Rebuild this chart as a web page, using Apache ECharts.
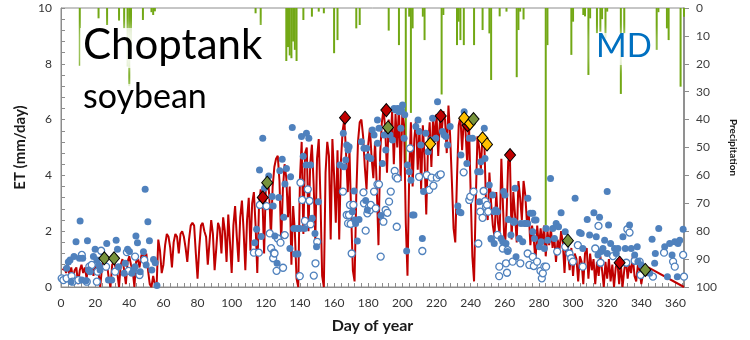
<!DOCTYPE html>
<html>
<head>
<meta charset="utf-8">
<script src="https://cdn.jsdelivr.net/npm/echarts@6/dist/echarts.min.js"></script>
<style>
  html, body { margin: 0; padding: 0; background: #fff; }
  #chart { width: 750px; height: 340px; }
</style>
</head>
<body>
<div id="chart"></div>
<script>
// Modelled daily ET (mm/day), days 1..344; the series then runs straight to day 365.
var modelET = [
  0.6,0.7,0.5,0.8,0.4,0.7,0.3,0.6,0.7,0.1,
  0.6,0.8,0.5,0.7,0.3,0.8,0.6,0.9,0.4,0.7,
  0.8,0.5,0.0,0.7,0.9,0.6,0.8,0.3,0.0,0.8,
  0.9,0.7,0.5,0.0,0.8,1.0,0.6,0.1,0.9,1.1,
  0.8,0.6,0.0,0.9,1.0,0.7,1.1,1.3,0.9,1.2,
  0.6,0.1,0.0,0.4,0.1,0.0,1.7,1.3,0.5,0.8,
  1.5,1.9,1.8,1.4,0.7,1.6,1.9,1.8,1.2,1.9,
  2.0,1.8,1.4,0.9,1.7,2.2,2.3,2.2,1.2,0.3,
  1.4,2.2,2.3,2.0,1.8,0.8,1.6,2.4,1.9,0.6,
  1.4,2.3,2.1,1.2,2.5,2.0,0.9,2.6,1.6,0.5,
  2.2,2.9,1.8,0.9,2.5,3.1,2.0,0.6,2.4,3.2,
  1.3,3.0,3.4,2.2,0.5,2.9,3.5,3.2,1.2,3.6,
  4.0,3.3,1.8,3.6,4.3,4.6,4.7,3.8,1.6,3.5,
  4.4,3.9,2.5,3.6,0.8,2.9,2.0,0.3,0.0,3.9,
  5.2,1.9,4.8,5.0,2.0,4.4,5.1,3.7,1.7,4.6,
  5.3,3.2,0.4,0.0,4.1,5.2,4.7,1.7,5.3,4.0,
  2.3,4.9,1.7,4.5,5.6,6.0,4.8,3.4,4.9,2.6,
  0.6,0.2,3.3,5.2,5.9,6.0,5.4,4.3,3.5,5.1,
  5.7,4.6,3.9,5.2,3.6,1.5,4.8,5.9,6.4,5.6,
  4.1,6.0,5.2,6.3,4.4,6.2,5.0,6.5,3.8,6.3,
  5.8,2.3,0.4,4.0,5.9,3.6,5.3,6.0,4.2,5.7,
  3.5,5.8,4.6,2.6,5.0,5.9,4.3,6.1,5.2,6.2,
  4.7,6.0,5.5,6.3,6.0,4.8,6.5,5.4,3.8,2.1,
  1.6,3.9,5.8,6.1,4.9,6.0,5.6,4.4,5.9,3.4,
  1.1,0.2,3.1,5.4,5.0,4.2,5.5,5.2,3.0,2.4,
  4.1,3.0,2.2,1.8,3.4,2.3,1.9,4.6,2.8,1.3,
  2.5,4.5,4.7,1.7,3.4,2.6,1.6,3.8,3.2,2.4,
  3.8,3.3,2.3,2.7,1.5,2.2,1.7,0.9,2.2,1.4,
  2.1,1.5,2.2,1.1,2.0,1.5,2.1,1.4,1.8,0.9,
  1.7,1.3,2.0,1.6,0.5,1.7,1.3,0.6,1.4,0.4,
  1.2,1.0,0.2,1.1,0.9,0.1,1.2,1.4,0.3,1.2,
  0.6,1.0,0.1,0.9,0.4,1.1,0.6,0.0,0.9,0.3,
  1.0,0.2,0.8,0.0,0.7,0.9,0.1,0.8,0.0,0.6,
  1.0,0.3,0.8,0.5,1.1,0.4,0.2,0.8,0.6,0.1,
  0.5,0.6,0.4,0.7
];
var modelEnd = [365, 0.0];

// Observed ET, filled markers [day, mm/day]
var obsFilled = [
  [3.3,0.67],[4.3,0.9],[5.3,0.97],[5.9,0.19],[7.6,1.09],[8.8,1.62],[11.2,2.37],[10.8,1.03],[12.7,1.03],[12.2,0.25],
  [15.5,1.66],[14.7,0.22],[16.1,0.61],[17,0.55],[19,1.09],[20,1.35],[21,0.97],[22.1,0.79],[22.9,0.61],[26.8,1.56],
  [27.8,0.25],[29.7,0.25],[32.3,1.68],[33.1,1.35],[33.7,0.73],[37,0.49],[37.6,0.85],[39,1.35],[40.1,1.27],[41.5,0.49],
  [42.5,0.61],[43.9,1.83],[44.8,1.59],[43.4,0.73],[46.4,0.55],[48.3,1.26],[49.3,3.5],[49.9,0.79],[50.9,2.34],[51.8,1.66],
  [53.2,0.61],[54.2,0.99],[55.2,0.87],[56.2,0.05],
  [113.5,1.59],[114.6,2.07],[116.3,4.19],[117.3,1.81],[118.2,5.33],[119.2,3.54],[121.7,3.98],[123.7,3.24],[124.3,2.9],[125.3,1.83],
  [126.6,0.85],[127.6,3.21],[128.2,4.17],[129.6,4.58],[130.5,2.5],[131.2,3.69],[132.1,4.25],[134.1,1.38],[134.5,3.95],[135.5,5.72],
  [136.4,2.1],[137.4,1.18],[138.4,2.1],[138.8,1.18],[140,2.1],[140.9,5.39],[141.9,4.69],[142.7,2.1],[143.6,4.37],[143.8,5.51],
  [145.2,5.33],[146.2,4.37],[147.2,2.46],[148.8,1.92],[149.7,1.44],[150.8,3.06],[163.4,4.37],
  [165.4,5.51],[165.8,4.31],[166.8,4.55],[167.4,5.09],[168.2,4.91],[168.8,5.03],[170.7,2.7],[171.7,3.44],[172.1,2.4],[172.6,2.28],
  [173.6,1.65],[174.6,2.42],[176,5.21],[177.5,4.97],[178.5,3.1],[179.1,4.97],[179.5,2.76],[179.9,4.67],[181.5,4.61],[182.4,5.63],
  [183.4,5.45],[185.4,5.99],[185.4,5.15],[186.3,5.69],[187.5,2.56],[188.3,4.43],[189.3,5.45],[190.3,4.91],[192.8,5.45],[194.2,5.27],
  [195.1,6.4],[196.1,6.34],[197.1,6.4],[198,6.28],[199.1,5.69],[199.5,6.34],[200.1,6.52],[201,5.33],[201.4,6.17],[202.5,1.29],
  [203,4.37],[204,4.13],[205,3.83],[205.9,2.58],[206.8,2.58],[207.9,5.75],[209.2,5.99],[209.8,5.57],[210.8,5.09],[211.7,1.74],
  [212.4,3.42],[213.7,5.51],[215.1,4.85],[216.7,5.27],[217.7,6.05],[219.6,5.33],[220.6,6.64],[223.5,5.57],[224.5,5.45],[225.5,5.39],
  [226.5,5.09],[228,5.75],[232.5,2.9],[233.3,2.7],[234.3,2.66],[234.3,4.73],[236.2,6.28],[237.8,4.43],[239.2,5.33],[241.1,5.33],
  [244.1,4.13],[245.1,3.06],[245.6,4.13],[246,4.49],[248,5.69],[248.4,4.61],[250.9,3.66],[251.9,1.74],[252.2,1.71],[252.9,3.3],
  [253.8,1.56],[253.9,2.7],[254.7,2.76],[255.7,2.7],[257.8,1.74],[258.8,1.62],[259.3,3.42],[260.1,3.3],[260.7,1.56],[261.7,1.27],
  [262.1,2.42],[263.6,1.86],[265.6,2.34],[266,3.54],[266.6,1.08],[268.5,1.74],[269.5,2.28],[270.5,1.62],[271.5,2.28],[272.5,2.28],
  [273.4,2.28],[273.5,3.18],[275,2.64],[276.4,2.64],[276.4,1.98],[277.4,2.4],[277.4,1.74],[278.3,2.4],[280.3,1.44],[281.3,1.62],
  [283.2,1.38],[284.2,2.1],[285.2,1.68],[286.8,3.89],[288.1,2.1],[289.1,1.74],[290.1,2.28],[291.5,2.16],[293,2.66],[295.4,1.98],
  [301.2,3.18],[303.8,1.95],[304.8,1.92],[305.7,1.38],[308.3,2.42],[309.7,1.86],[312.2,2.66],[313.6,1.8],[314.6,1.15],[315.5,2.5],
  [316.5,1.27],[317.5,1.38],[318.5,1.68],[320,3.42],[320,1.2],[320.8,2.22],[322,1.56],[324.3,1.38],[325.3,1.2],[326.3,1.38],
  [329.2,1.8],[330.6,1.38],[333.1,2.22],[334.1,1.38],[336.1,1.15],[337.6,1.44],[338,0.91],[340,0.79],[344.9,0.49],[346.3,1.71],
  [347.8,0.85],[348.2,1.2],[350.2,2.1],[353.7,1.44],[355.3,0.37],[356.6,1.56],[358,1.15],[359.6,1.62],[361.1,0.37],[361.5,1.56],
  [362.5,1.68],[364.5,2.07]
];

// Observed ET, open markers [day, mm/day]
var obsOpen = [
  [0.4,0.31],[1.4,0.25],[3.3,0.31],[6.2,0.39],[6.8,0.19],[10.2,0.25],[12.2,1.15],[15.1,0.19],[16.6,0.73],[18,0.79],
  [21,0.19],[21.4,0.55],[23.5,1.3],[26.4,0.73],[31.7,0.55],[38.6,1.25],[39.6,0.58],[43.4,1.09],[46,0.43],[48.8,0.97],
  [113,1.23],[115.9,1.23],[116.5,2.94],[120.4,2.9],[122.3,1.92],[123.1,1.39],[124.3,1.03],[124.7,1.23],[125.1,1.2],[126.3,0.58],
  [127,1.74],[128.6,1.59],[130.1,0.69],[131.1,1.86],[139.9,0.39],[140.3,3.74],[141.3,3.12],[142.9,2.37],[144.6,3.5],[145.6,3.09],
  [146.2,2.25],[148.1,0.41],[149.1,0.85],[150.1,1.62],
  [165.2,3.42],[167.4,2.58],[168.2,2.28],[168.7,2.58],[169.3,2.94],[169.7,2.26],[170.3,1.2],[171.3,2.94],[177.2,3.39],[177.5,3.0],
  [178.5,2.02],[179.5,2.64],[180.5,2.88],[181.1,2.76],[181.5,2.94],[183.4,3.42],[184.4,2.82],[185.4,3.68],[186.3,3.68],[187.3,1.09],
  [188.9,2.34],[190.2,2.76],[191.2,2.66],[192.2,3.06],[193.2,3.42],[195.5,4.16],[196.1,3.95],[196.7,2.16],[197.1,3.89],[204.5,4.97],
  [209.8,3.95],[211.7,1.29],[214.3,4.01],[215.7,3.48],[217.1,3.92],[218.2,3.63],[220.2,3.92],[221.6,4.01],[222.5,4.04],[235.9,4.11],
  [239.2,3.12],[239.8,3.24],[241.7,3.42],[244.5,1.56],[245.6,2.7],[247,2.48],[247.6,3.44],[248.4,3.08],[249,2.88],[249.6,2.94],
  [250.3,2.7],[255.7,1.87],[256.7,0.39],[256.8,0.73],[258.8,1.38],[260.7,0.85],[261.3,0.51],[261.7,1.32],[264.6,0.91],[265.2,2.34],
  [269.1,0.85],[273.4,1.2],[274.4,0.79],[276.4,1.08],[277,0.75],[278.9,0.91],[280.9,0.58],[281.7,0.31],[282.3,0.49],[283.2,0.73],
  [284.2,0.73],[290.7,1.27],[295.4,1.44],[297.9,1.2],[298.9,1.03],[299.9,0.91],[302.8,1.5],[305.7,0.73],[313,1.38],[314.9,2.19],
  [316.1,0.87],[323.4,1.11],[331.2,0.87],[331.8,2.07],[333.1,1.95],[336.1,0.94],[339,0.91],[339.6,0.43],[346.8,0.37],[353.3,1.23],
  [358.6,0.91],[359.6,0.73],[364.5,1.15],[365,0.37]
];

// Diamond markers [day, mm/day]
var diamondsRed = [[118.2,3.21],[166.4,6.07],[190.6,6.34],[222.5,6.13],[238.2,5.8],[263.1,4.73],[327.3,0.87]];
var diamondsYellow = [[216.3,5.13],[236.2,6.05],[239.6,5.86],[247,5.33],[249.6,5.11]];
var diamondsGreen = [[25.4,1.03],[31.1,1.03],[120.8,3.74],[191.6,5.72],[241.7,6.02],[297,1.66],[342.3,0.61]];

// Daily precipitation [day, mm], hanging from the top axis
var precip = [
  [11,20.7],[22,3.7],[27,6.1],[34,4.5],[37,7.3],[39,21],[40,28],[41,15],[48,4.3],[53,1.5],[54,2.5],[55,1.2],
  [114,1.9],[117,6.1],[132,19],[133,14],[134,17],[135,18],[136,12],[137,15],[138,19],[142,4.3],[147,3.1],[151,1.3],
  [154,1.9],[160,16.2],[162,11.5],[173,7.3],[175,6.1],[192,8.1],[198,13.3],[202,55.5],[204,3.1],[205,37.6],[206,7.3],
  [212,3.1],[213,11.5],[223,31],[224,2.5],[232,13.3],[233,4.9],[234,11.5],[236,13.3],[242,13.3],[247,7.9],[251,9.1],
  [252,25.8],[257,3],[261,1.3],[267,24.8],[268,7.9],[269,1.3],[271,4.1],[284,77.8],[285,13.3],[299,16.8],[300,4.9],
  [306,2.5],[307,3],[309,24],[310,3.7],[314,9.1],[316,8.5],[317,4],[319,10.9],[320,1.3],[328,30.8],[330,9.1],
  [349,15],[350,1.5],[355,7.3],[356,11.5],[363,28.2],[365,3.1]
];

var modelSeries = modelET.map(function (v, i) { return [i + 1, v]; });
modelSeries.push(modelEnd);

var axisGrey = '#8c8c8c';
var labelColor = '#333333';
var font = 'Lato';

var chart = echarts.init(document.getElementById('chart'), null, { renderer: 'canvas' });

function diamond(data, color) {
  return {
    type: 'scatter', data: data, symbol: 'diamond', symbolSize: [11, 13],
    itemStyle: { color: color, borderColor: '#000', borderWidth: 1, opacity: 1 },
    z: 6, silent: true
  };
}

// soft white halo behind the overlay labels
function halo(x, y, w, h) {
  return { type: 'rect', z: 90, shape: { x: x, y: y, width: w, height: h },
    style: { fill: 'rgba(255,255,255,0.7)', shadowBlur: 12, shadowColor: 'rgba(255,255,255,0.9)' } };
}

chart.setOption({
  animation: false,
  backgroundColor: '#fff',
  grid: { left: 61, right: 66, top: 8, bottom: 53, show: true, borderColor: axisGrey, borderWidth: 1 },
  xAxis: {
    type: 'value', min: 0, max: 365, interval: 20,
    name: 'Day of year', nameLocation: 'middle', nameGap: 31,
    nameTextStyle: { fontFamily: font, fontWeight: 'bold', fontSize: 16, color: '#1a1a1a' },
    axisLine: { show: true, lineStyle: { color: axisGrey } },
    axisTick: { show: true, inside: true, length: 4, lineStyle: { color: axisGrey } },
    minorTick: { show: true, splitNumber: 5, length: 4, lineStyle: { color: axisGrey } },
    axisLabel: {
      margin: 10, color: labelColor, fontFamily: font, fontSize: 12,
      formatter: function (v) { return (v % 20 === 0 && v <= 360) ? String(v) : ''; }
    },
    splitLine: { show: false }
  },
  yAxis: [
    {
      type: 'value', min: 0, max: 10, interval: 2,
      name: 'ET (mm/day)', nameLocation: 'middle', nameGap: 32, nameRotate: 90,
      nameTextStyle: { fontFamily: font, fontWeight: 'bold', fontSize: 15, color: '#1a1a1a' },
      axisLine: { show: true, lineStyle: { color: axisGrey } },
      axisTick: { show: true, inside: true, length: 4, lineStyle: { color: axisGrey } },
      minorTick: { show: true, splitNumber: 5, length: 4, lineStyle: { color: axisGrey } },
      axisLabel: { margin: 9, color: labelColor, fontFamily: font, fontSize: 12 },
      splitLine: { show: false }
    },
    {
      type: 'value', min: 0, max: 100, interval: 10, inverse: true, position: 'right',
      name: 'Precipitation', nameLocation: 'middle', nameGap: 29, nameRotate: -90,
      nameTextStyle: { fontFamily: font, fontWeight: 'bold', fontSize: 10, color: '#1a1a1a' },
      axisLine: { show: true, lineStyle: { color: '#7f7f7f', width: 1.5 } },
      axisTick: { show: true, inside: false, length: 5, lineStyle: { color: axisGrey } },
      axisLabel: { margin: 12, color: '#404040', fontFamily: font, fontSize: 12 },
      splitLine: { show: false }
    }
  ],
  graphic: [
    halo(80, 28, 192, 40),
    halo(80, 84, 130, 38),
    halo(592, 33, 62, 32),
    { type: 'text', z: 100, left: 83, top: 24,
      style: { text: 'Choptank', font: '42px Lato', fill: '#000' } },
    { type: 'text', z: 100, left: 83, top: 80,
      style: { text: 'soybean', font: '34px Lato', fill: '#000' } },
    { type: 'text', z: 100, left: 596, top: 30,
      style: { text: 'MD', font: '33px Lato', fill: '#0070C0' } }
  ],
  series: [
    {
      type: 'bar', yAxisIndex: 1, data: precip, barWidth: 2,
      itemStyle: { color: '#72a815' }, z: 1, silent: true
    },
    {
      type: 'line', data: modelSeries, showSymbol: false, symbol: 'none',
      lineStyle: { color: '#c00000', width: 2 }, z: 3, silent: true
    },
    {
      type: 'scatter', data: obsOpen, symbol: 'circle', symbolSize: 7,
      itemStyle: { color: '#fff', borderColor: '#4f81bd', borderWidth: 1.3, opacity: 1 }, z: 4, silent: true
    },
    {
      type: 'scatter', data: obsFilled, symbol: 'circle', symbolSize: 7,
      itemStyle: { color: '#4f81bd', opacity: 1 }, z: 5, silent: true
    },
    diamond(diamondsRed, '#c00000'),
    diamond(diamondsYellow, '#ffc000'),
    diamond(diamondsGreen, '#77933c')
  ]
});
</script>
</body>
</html>
